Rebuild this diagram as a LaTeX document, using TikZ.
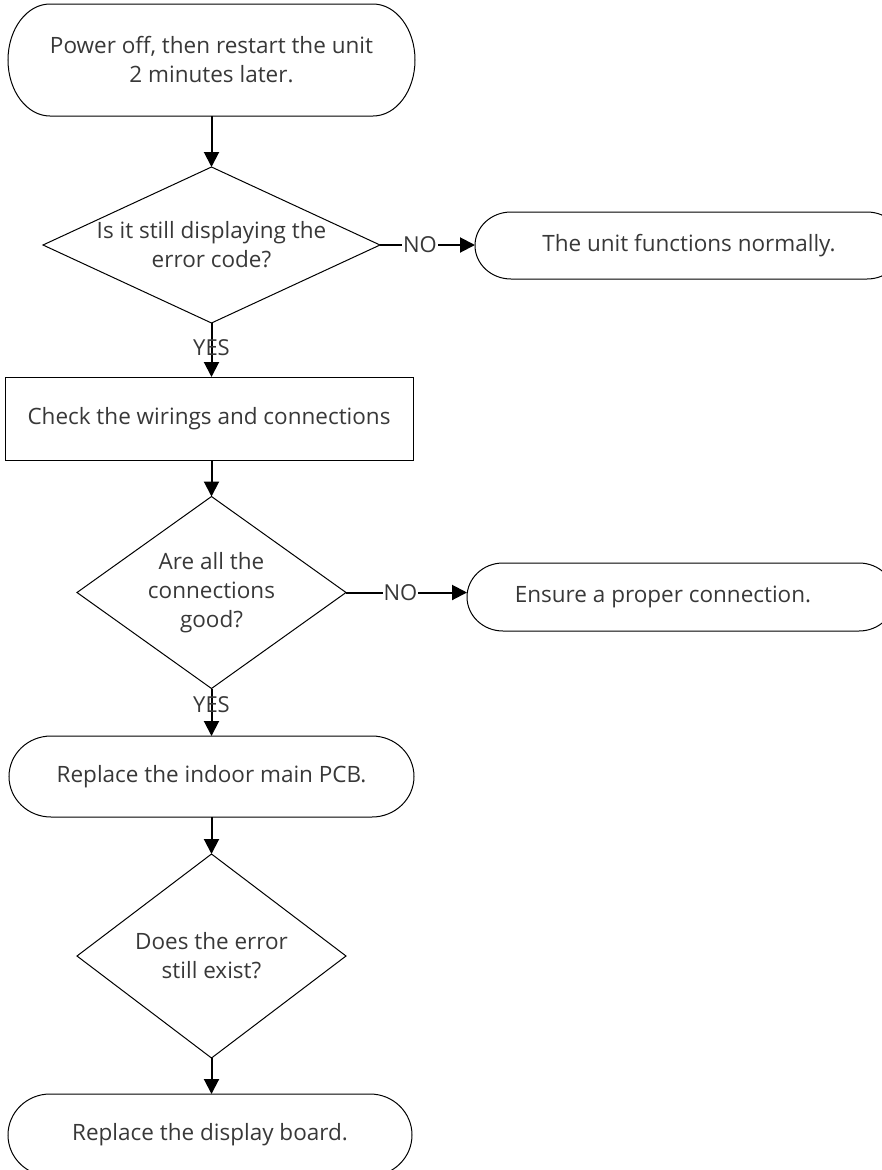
\documentclass[tikz,border=0pt]{standalone}
\usepackage{fontspec}
\setmainfont{Open Sans}
\usetikzlibrary{arrows.meta,calc}
\definecolor{txt}{HTML}{383838}
\newcommand{\stadium}[3]{%
  \draw[shp] ([xshift=#2]#1.north west) -- ([xshift=-#2]#1.north east)
    arc[start angle=90,end angle=-90,x radius=#2,y radius=#3]
    -- ([xshift=#2]#1.south west)
    arc[start angle=270,end angle=90,x radius=#2,y radius=#3] -- cycle;}
\newcommand{\rhomb}[1]{%
  \draw[shp] (#1.north) -- (#1.east) -- (#1.south) -- (#1.west) -- cycle;}
\begin{document}
\begin{tikzpicture}[x=1pt,y=1pt,
  shp/.style={draw=black,line width=1pt},
  nd/.style={inner sep=0pt,outer sep=0pt,align=center,text=txt,
    font=\fontsize{22.5}{29}\selectfont},
  conn/.style={line width=2pt,-{Triangle[length=15pt,width=15pt]}},
  lbl/.style={text=txt,font=\fontsize{22}{26}\selectfont,inner sep=1pt}]
\useasboundingbox (0,0) rectangle (882,-1170);
% nodes
\node[nd,minimum width=407,minimum height=112] (t1) at (211.5,-60)
  {Power off, then restart the unit\\2 minutes later.};
\node[nd,minimum width=337,minimum height=156] (d1) at (211.5,-245)
  {Is it still displaying the\\error code?};
\node[nd,minimum width=428,minimum height=67] (t2) at (689,-245.5)
  {The unit functions normally.};
\node[nd,draw=black,line width=1pt,minimum width=408,minimum height=83] (b1) at (209,-418.5)
  {Check the wirings and connections};
\node[nd,minimum width=269,minimum height=192] (d2) at (211.5,-592.5)
  {Are all the\\connections\\good?};
\node[nd,minimum width=428,minimum height=68] (t3) at (681,-597)
  {Ensure a proper connection.\hspace*{36pt}};
\node[nd,minimum width=405,minimum height=81] (t4) at (211.5,-776.5)
  {Replace the indoor main PCB.};
\node[nd,minimum width=269,minimum height=204] (d3) at (211.5,-956)
  {Does the error\\still exist?};
\node[nd,minimum width=404,minimum height=82] (t5) at (210,-1135)
  {Replace the display board.};
% shapes
\stadium{t1}{42pt}{56pt}
\stadium{t2}{36pt}{33.5pt}
\stadium{t3}{36pt}{34pt}
\stadium{t4}{42pt}{40.5pt}
\stadium{t5}{42pt}{41pt}
\rhomb{d1}
\rhomb{d2}
\rhomb{d3}
% connectors
\draw[conn] (t1.south) -- (d1.north);
\draw[conn] (d1.south) -- node[lbl,pos=0.45] {YES} (d1.south |- b1.north);
\draw[conn] (d1.east) -- node[lbl,fill=white,pos=0.42] {NO} (d1.east -| t2.west);
\draw[conn] (d2.north |- b1.south) -- (d2.north);
\draw[conn] (d2.east) -- node[lbl,fill=white,pos=0.45] {NO} (d2.east -| t3.west);
\draw[conn] (d2.south) -- node[lbl,pos=0.35] {YES} (t4.north);
\draw[conn] (t4.south) -- (d3.north);
\draw[conn] (d3.south) -- (d3.south |- t5.north);
\end{tikzpicture}
\end{document}
